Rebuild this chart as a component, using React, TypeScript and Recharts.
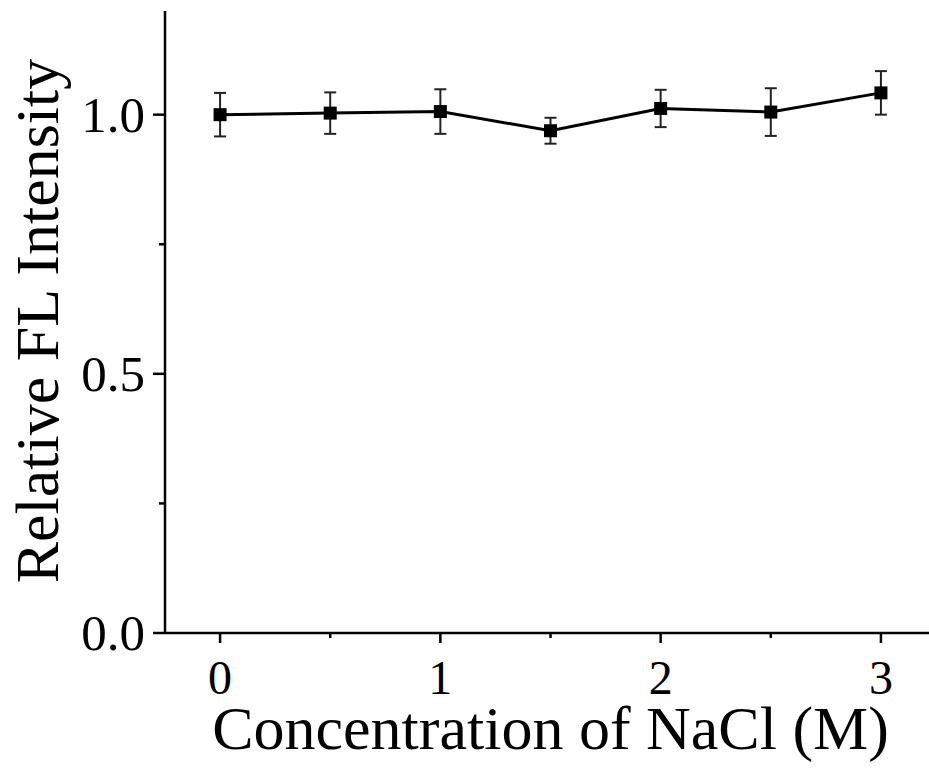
import React from "react";
import { LineChart, Line, XAxis, YAxis, ErrorBar } from "recharts";

const concentrations = [0, 0.5, 1, 1.5, 2, 2.5, 3];
const intensity = [1.0, 1.003, 1.006, 0.969, 1.012, 1.005, 1.042];
const errors = [0.042, 0.04, 0.043, 0.025, 0.036, 0.046, 0.042];
const xTicks = [0, 0.5, 1, 1.5, 2, 2.5, 3];
const yTicks = [0, 0.25, 0.5, 0.75, 1.0];

const data = concentrations.map((c, i) => ({ c, y: intensity[i], err: errors[i] }));

const FONT = "'Liberation Serif', 'Times New Roman', serif";

const XTick = (props: any) => {
  const { x, y, payload } = props;
  const major = Number.isInteger(payload.value);
  return (
    <g>
      <line x1={x} x2={x} y1={y} y2={y + (major ? 10 : 5)} stroke="#000" strokeWidth={2.5} />
      {major && (
        <text x={x} y={y + 61} textAnchor="middle" fontSize={48} fontFamily={FONT} fill="#000">
          {payload.value}
        </text>
      )}
    </g>
  );
};

const YTick = (props: any) => {
  const { x, y, payload } = props;
  const major = Math.abs((payload.value * 2) % 1) < 1e-9;
  return (
    <g>
      <line x1={x - (major ? 12 : 6)} x2={x} y1={y} y2={y} stroke="#000" strokeWidth={2.5} />
      {major && (
        <text x={x - 20} y={y + 17} textAnchor="end" fontSize={51} fontFamily={FONT} fill="#000">
          {payload.value.toFixed(1)}
        </text>
      )}
    </g>
  );
};

const SquareDot = (props: any) => {
  const { cx, cy } = props;
  if (cx == null || cy == null) return null;
  return <rect x={cx - 6.5} y={cy - 6.5} width={13} height={13} fill="#000" />;
};

export default function App() {
  return (
    <div style={{ position: "fixed", left: 0, top: 0, width: 929, height: 772, overflow: "hidden", background: "#fff" }}>
      <LineChart width={960} height={772} data={data} margin={{ top: 11, right: 24, left: 0, bottom: 0 }}>
        <XAxis
          dataKey="c"
          type="number"
          domain={[-0.25, 3.25]}
          ticks={xTicks}
          tickSize={0}
          tickMargin={0}
          tickLine={false}
          tick={<XTick />}
          height={139}
          axisLine={{ stroke: "#000", strokeWidth: 2.5 }}
          interval={0}
          allowDataOverflow
          label={{
            content: (p: any) => {
              const vb = p.viewBox;
              return (
                <text x={vb.x + vb.width / 2} y={vb.y + 116} textAnchor="middle" fontSize={62} fontFamily={FONT} fill="#000">
                  Concentration of NaCl (M)
                </text>
              );
            },
          }}
        />
        <XAxis
          xAxisId="top"
          orientation="top"
          dataKey="c"
          type="number"
          domain={[-0.25, 3.25]}
          height={0}
          tick={false}
          tickLine={false}
          axisLine={{ stroke: "#000", strokeWidth: 2.5 }}
        />
        <YAxis
          type="number"
          domain={[0, 1.2]}
          ticks={yTicks}
          width={165}
          tickSize={0}
          tickMargin={0}
          tickLine={false}
          tick={<YTick />}
          interval={0}
          axisLine={{ stroke: "#000", strokeWidth: 2.5 }}
          allowDataOverflow
          label={{
            content: () => (
              <text
                x={58}
                y={321}
                transform="rotate(-90, 58, 321)"
                textAnchor="middle"
                fontSize={62}
                fontFamily={FONT}
                fill="#000"
              >
                Relative FL Intensity
              </text>
            ),
          }}
        />
        <Line
          type="linear"
          dataKey="y"
          stroke="#000"
          strokeWidth={3}
          dot={<SquareDot />}
          activeDot={false}
          isAnimationActive={false}
        >
          <ErrorBar dataKey="err" direction="y" width={6} stroke="#222" strokeWidth={2} isAnimationActive={false} />
        </Line>
      </LineChart>
    </div>
  );
}
